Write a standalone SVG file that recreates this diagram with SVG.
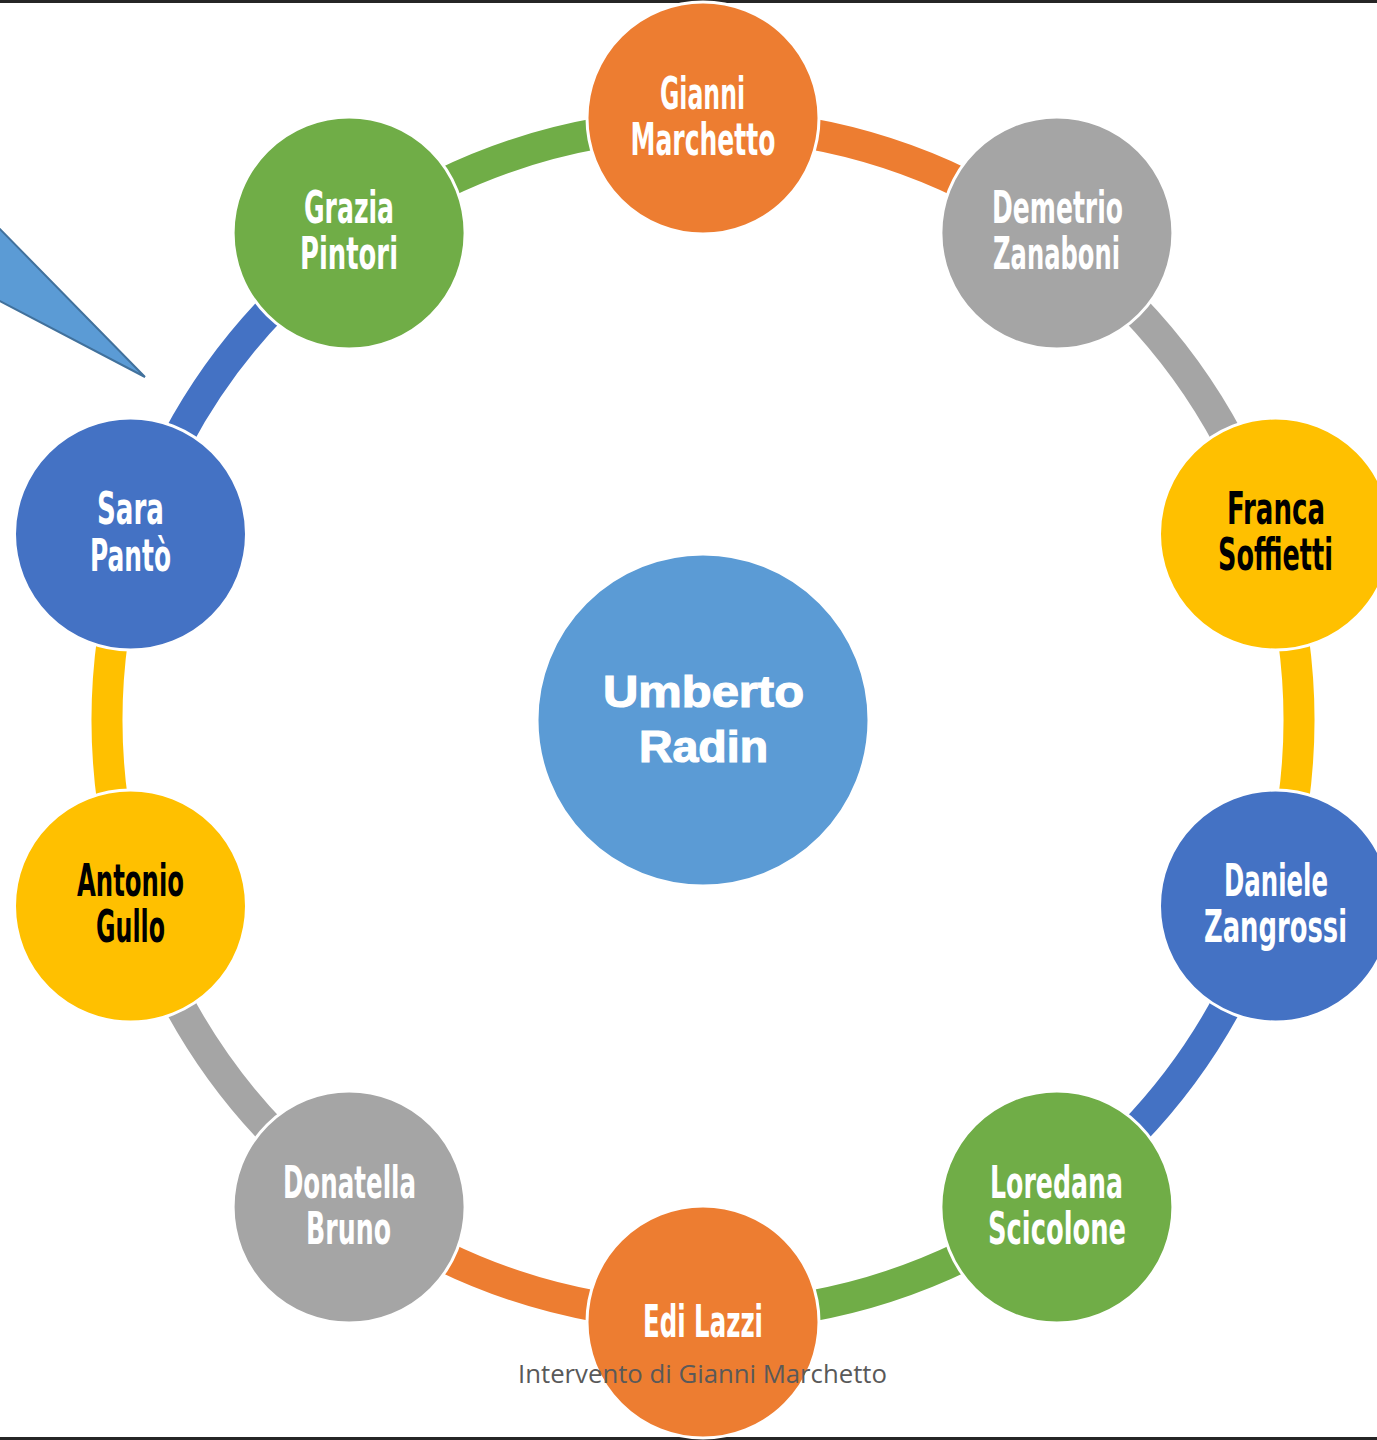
<svg xmlns="http://www.w3.org/2000/svg" xmlns:xlink="http://www.w3.org/1999/xlink" width="1377" height="1440" viewBox="0 0 1377 1440">
  <style>
    .node { stroke: #ffffff; stroke-width: 3; }
    .lbl { font-family: "DejaVu Sans Condensed", "DejaVu Sans", sans-serif; font-stretch: condensed; font-weight: bold; font-size: 44px; text-anchor: middle; }
    .w { fill: #ffffff; }
    .k { fill: #000000; }
    .hub { font-family: "Liberation Sans", Arial, sans-serif; font-weight: 900; font-size: 44px; fill: #ffffff; stroke: #ffffff; stroke-width: 1.2; text-anchor: middle; }
    .foot { font-family: "Open Sans", "Liberation Sans", sans-serif; font-size: 25px; fill: #595959; text-anchor: middle; }
    .orange { fill: #ED7D31; }
    .gray { fill: #A5A5A5; }
    .yellow { fill: #FFC000; }
    .blue { fill: #4472C4; }
    .green { fill: #70AD47; }
  </style>
  <defs>
    <!-- one ring segment between two neighbouring nodes; copies are rotated in 36° steps -->
    <path id="seg" d="M 806.50 133.05 A 596 596 0 0 1 964.27 184.32" fill="none" stroke-width="31" stroke-linecap="butt"/>
  </defs>

  <rect x="0" y="0" width="1377" height="1440" fill="#ffffff"/>
  <!-- frame lines at top and bottom -->
  <rect x="0" y="0" width="1377" height="3" fill="#262626"/>
  <rect x="0" y="1437" width="1377" height="3" fill="#262626"/>

  <!-- callout pointer -->
  <polygon points="-4,225 145,377 -4,299" fill="#5B9BD5" stroke="#41719C" stroke-width="2" stroke-linejoin="miter"/>

  <g id="connectors">
    <use xlink:href="#seg" href="#seg" stroke="#ED7D31" transform="rotate(0 703 720)"/>
    <use xlink:href="#seg" href="#seg" stroke="#A5A5A5" transform="rotate(36 703 720)"/>
    <use xlink:href="#seg" href="#seg" stroke="#FFC000" transform="rotate(72 703 720)"/>
    <use xlink:href="#seg" href="#seg" stroke="#4472C4" transform="rotate(108 703 720)"/>
    <use xlink:href="#seg" href="#seg" stroke="#70AD47" transform="rotate(144 703 720)"/>
    <use xlink:href="#seg" href="#seg" stroke="#ED7D31" transform="rotate(180 703 720)"/>
    <use xlink:href="#seg" href="#seg" stroke="#A5A5A5" transform="rotate(216 703 720)"/>
    <use xlink:href="#seg" href="#seg" stroke="#FFC000" transform="rotate(252 703 720)"/>
    <use xlink:href="#seg" href="#seg" stroke="#4472C4" transform="rotate(288 703 720)"/>
    <use xlink:href="#seg" href="#seg" stroke="#70AD47" transform="rotate(324 703 720)"/>
  </g>

  <g id="hub">
    <circle cx="703" cy="720" r="166" fill="#5B9BD5" class="node"/>
    <text class="hub" x="703.5" y="707" textLength="201" lengthAdjust="spacingAndGlyphs">Umberto</text>
    <text class="hub" x="703.5" y="762" textLength="129" lengthAdjust="spacingAndGlyphs">Radin</text>
  </g>

  <g id="node-marchetto">
    <circle cx="703" cy="118" r="116" class="node orange"/>
    <text class="lbl w" x="702.5" y="109" textLength="85" lengthAdjust="spacingAndGlyphs">Gianni</text>
    <text class="lbl w" x="703" y="155" textLength="145" lengthAdjust="spacingAndGlyphs">Marchetto</text>
  </g>

  <g id="node-zanaboni">
    <circle cx="1056.9" cy="233" r="116" class="node gray"/>
    <text class="lbl w" x="1057.5" y="223" textLength="131" lengthAdjust="spacingAndGlyphs">Demetrio</text>
    <text class="lbl w" x="1056.5" y="269" textLength="127" lengthAdjust="spacingAndGlyphs">Zanaboni</text>
  </g>

  <g id="node-soffietti">
    <circle cx="1275.5" cy="534" r="116" class="node yellow"/>
    <text class="lbl k" x="1276" y="524" textLength="98" lengthAdjust="spacingAndGlyphs">Franca</text>
    <text class="lbl k" x="1275.5" y="570" textLength="115" lengthAdjust="spacingAndGlyphs">Soffietti</text>
  </g>

  <g id="node-zangrossi">
    <circle cx="1275.5" cy="906" r="116" class="node blue"/>
    <text class="lbl w" x="1276" y="896" textLength="104" lengthAdjust="spacingAndGlyphs">Daniele</text>
    <text class="lbl w" x="1275.5" y="942" textLength="143" lengthAdjust="spacingAndGlyphs">Zangrossi</text>
  </g>

  <g id="node-scicolone">
    <circle cx="1056.9" cy="1207" r="116" class="node green"/>
    <text class="lbl w" x="1056.5" y="1198" textLength="133" lengthAdjust="spacingAndGlyphs">Loredana</text>
    <text class="lbl w" x="1057" y="1244" textLength="138" lengthAdjust="spacingAndGlyphs">Scicolone</text>
  </g>

  <g id="node-lazzi">
    <circle cx="703" cy="1322" r="116" class="node orange"/>
    <text class="lbl w" x="703" y="1337" textLength="120" lengthAdjust="spacingAndGlyphs">Edi Lazzi</text>
  </g>

  <g id="node-bruno">
    <circle cx="349.1" cy="1207" r="116" class="node gray"/>
    <text class="lbl w" x="349.5" y="1198" textLength="133" lengthAdjust="spacingAndGlyphs">Donatella</text>
    <text class="lbl w" x="348.5" y="1244" textLength="85" lengthAdjust="spacingAndGlyphs">Bruno</text>
  </g>

  <g id="node-gullo">
    <circle cx="130.5" cy="906" r="116" class="node yellow"/>
    <text class="lbl k" x="130.5" y="896" textLength="107" lengthAdjust="spacingAndGlyphs">Antonio</text>
    <text class="lbl k" x="130.5" y="942" textLength="69" lengthAdjust="spacingAndGlyphs">Gullo</text>
  </g>

  <g id="node-panto">
    <circle cx="130.5" cy="534" r="116" class="node blue"/>
    <text class="lbl w" x="130.5" y="524" textLength="67" lengthAdjust="spacingAndGlyphs">Sara</text>
    <text class="lbl w" x="130.5" y="571" textLength="81" lengthAdjust="spacingAndGlyphs">Pantò</text>
  </g>

  <g id="node-pintori">
    <circle cx="349.1" cy="233" r="116" class="node green"/>
    <text class="lbl w" x="349" y="223" textLength="90" lengthAdjust="spacingAndGlyphs">Grazia</text>
    <text class="lbl w" x="349" y="269" textLength="98" lengthAdjust="spacingAndGlyphs">Pintori</text>
  </g>

  <text class="foot" x="702.5" y="1383" textLength="369" lengthAdjust="spacingAndGlyphs">Intervento di Gianni Marchetto</text>
</svg>
